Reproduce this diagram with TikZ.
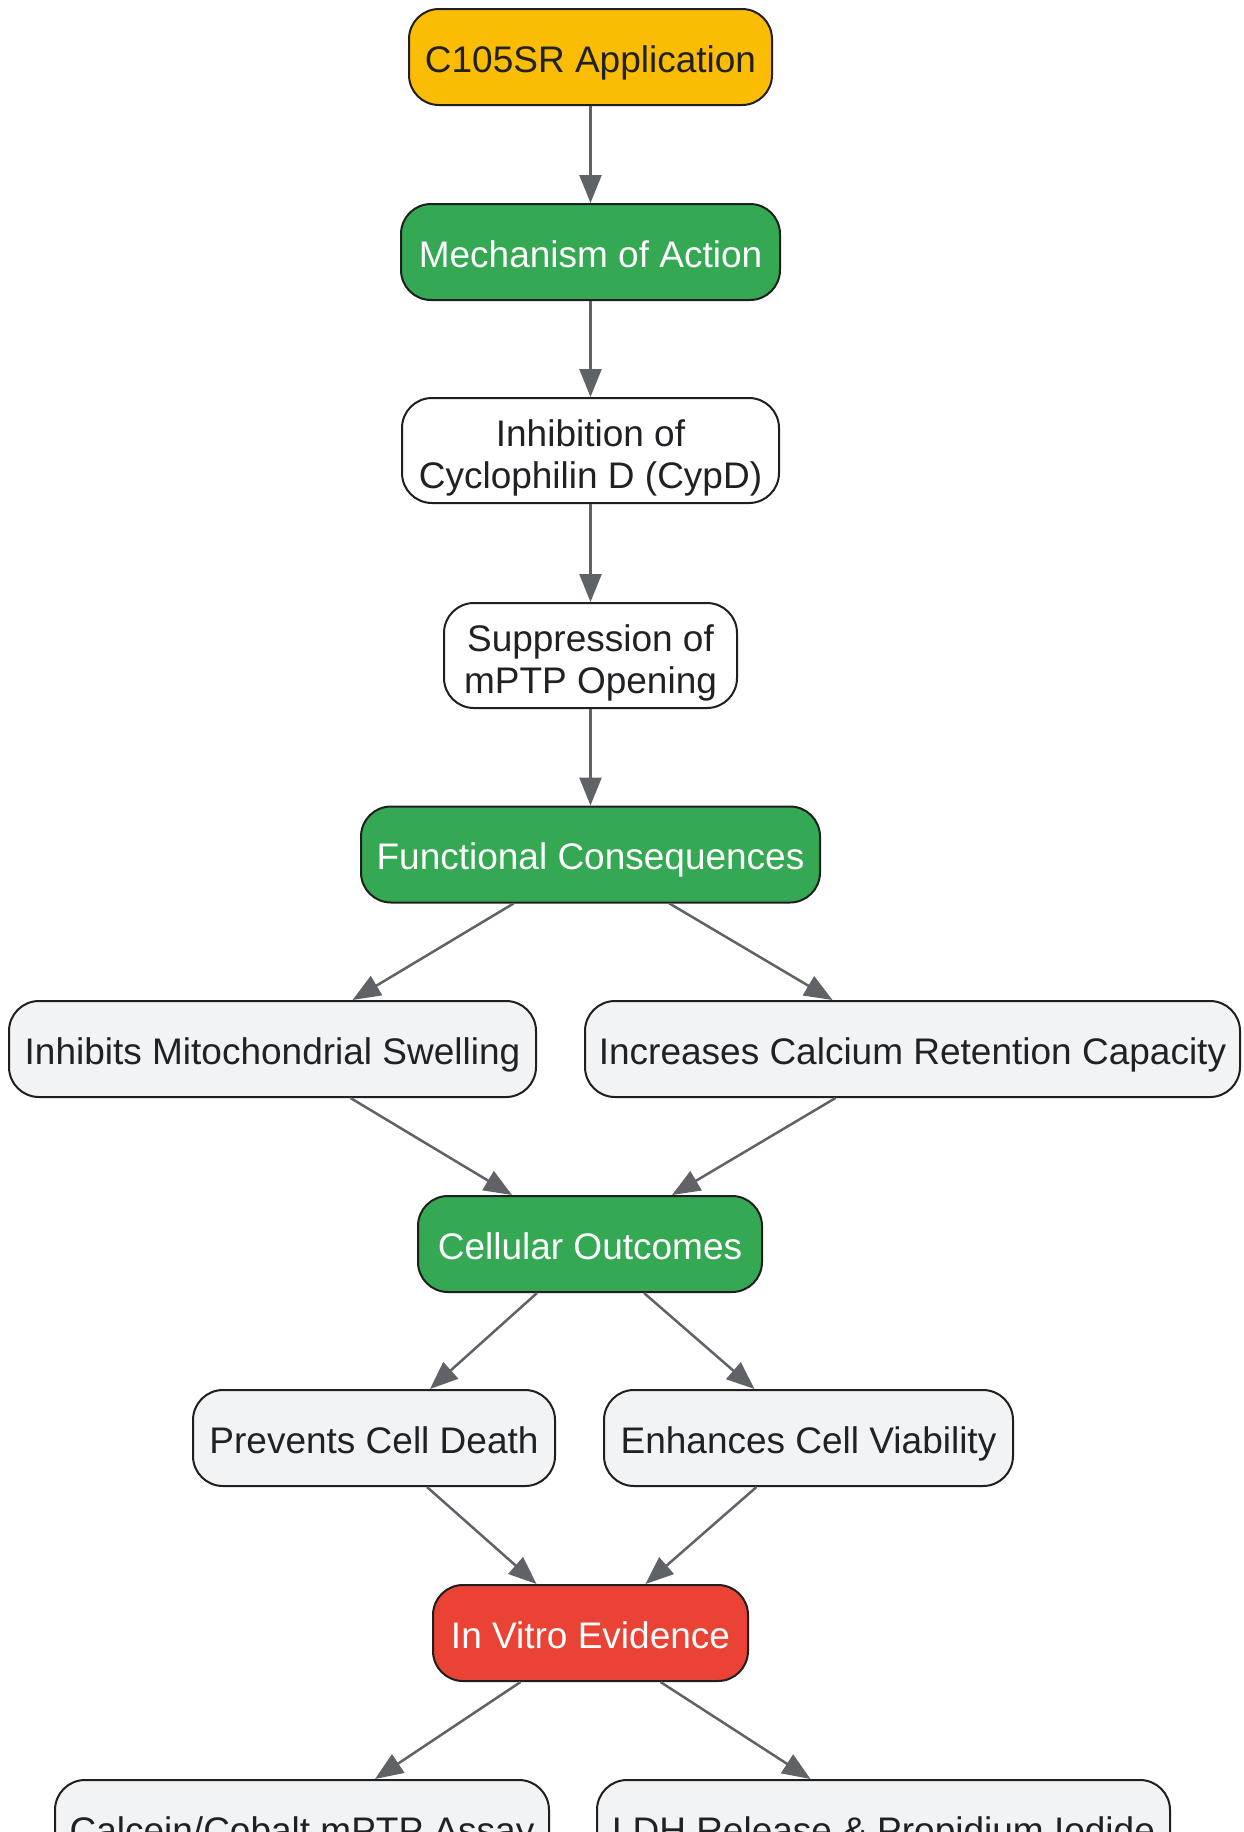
\documentclass[tikz,border=0pt]{standalone}
\usepackage{fontspec}
\setmainfont{Liberation Sans}
\usetikzlibrary{arrows.meta,calc}
\definecolor{cyellow}{HTML}{FBBC04}
\definecolor{cgreen}{HTML}{34A853}
\definecolor{cred}{HTML}{EA4335}
\definecolor{cgray}{HTML}{F1F3F4}
\definecolor{cedge}{HTML}{5F6368}
\definecolor{ctext}{HTML}{202124}
\definecolor{cborder}{HTML}{1F1F1F}
\newcommand{\firstlinestrut}{\rule{0pt}{34pt}}
\tikzset{
  box/.style={draw=cborder, line width=2pt, rounded corners=30pt, align=center,
    minimum height=96pt, inner sep=0pt, text=ctext,
    font=\fontsize{37}{42}\selectfont, text height=33pt, text depth=3pt},
  yel/.style={box, fill=cyellow},
  grn/.style={box, fill=cgreen, text=white},
  redb/.style={box, fill=cred, text=white},
  wht/.style={draw=cborder, line width=2pt, rounded corners=30pt, align=center,
    inner sep=0pt, text=ctext, font=\fontsize{37}{42}\selectfont,
    fill=white, minimum height=105pt, text depth=0pt},
  gry/.style={box, fill=cgray},
  conn/.style={draw=cedge, line width=2.5pt, -{Triangle[length=28pt,width=22pt]}}
}
\begin{document}
\begin{tikzpicture}[x=1pt,y=-1pt]
\useasboundingbox (0,0) rectangle (1244,1832);
\clip (0,0) rectangle (1244,1832);
\fill[white] (0,0) rectangle (1244,1832);
\node[yel, minimum width=363pt] (app) at (590.5,57) {C105SR Application};
\node[grn, minimum width=379pt] (moa) at (590.5,252) {Mechanism of Action};
\node[wht, minimum width=377pt] (cypd) at (590.5,450.5) {\firstlinestrut Inhibition of\\Cyclophilin D (CypD)};
\node[wht, minimum width=293pt] (mptp) at (590.5,655.5) {\firstlinestrut Suppression of\\mPTP Opening};
\node[grn, minimum width=459pt] (func) at (590.5,854.5) {Functional Consequences};
\node[gry, minimum width=527pt] (swell) at (272.5,1049) {Inhibits Mitochondrial Swelling};
\node[gry, minimum width=655pt] (calc) at (912.5,1049) {Increases Calcium Retention Capacity};
\node[grn, minimum width=344pt] (cell) at (590,1244) {Cellular Outcomes};
\node[gry, minimum width=362pt] (death) at (374,1438) {Prevents Cell Death};
\node[gry, minimum width=409pt] (viab) at (808.5,1438) {Enhances Cell Viability};
\node[redb, minimum width=315pt] (vitro) at (590.5,1633) {In Vitro Evidence};
\node[gry, minimum width=494pt] (calcein) at (302,1828) {Calcein/Cobalt mPTP Assay};
\node[gry, minimum width=573pt] (ldh) at (883.5,1828) {LDH Release \& Propidium Iodide};

\draw[conn] (app) -- (moa);
\draw[conn] (moa) -- (cypd);
\draw[conn] (cypd) -- (mptp);
\draw[conn] (mptp) -- (func);
\draw[conn] ($(func.south)+(-77,0)$) -- ($(swell.north)+(80,0)$);
\draw[conn] ($(func.south)+(79,0)$) -- ($(calc.north)+(-80,0)$);
\draw[conn] ($(swell.south)+(78,0)$) -- ($(cell.north)+(-78,0)$);
\draw[conn] ($(calc.south)+(-77,0)$) -- ($(cell.north)+(82,0)$);
\draw[conn] ($(cell.south)+(-53,0)$) -- ($(death.north)+(56,0)$);
\draw[conn] ($(cell.south)+(54,0)$) -- ($(viab.north)+(-54,0)$);
\draw[conn] ($(death.south)+(53,0)$) -- ($(vitro.north)+(-54,0)$);
\draw[conn] ($(viab.south)+(-52,0)$) -- ($(vitro.north)+(55,0)$);
\draw[conn] ($(vitro.south)+(-70,0)$) -- ($(calcein.north)+(73,0)$);
\draw[conn] ($(vitro.south)+(70,0)$) -- ($(ldh.north)+(-73,0)$);
\end{tikzpicture}
\end{document}
